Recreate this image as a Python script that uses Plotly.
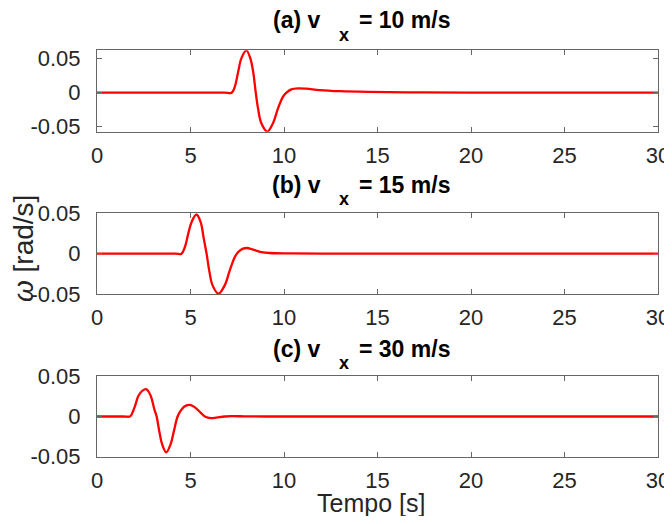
import plotly.graph_objects as go

# ---------------- data ----------------
t_a = [0, 5, 6.8, 7.2, 7.37, 7.55, 7.72, 7.99, 8.2, 8.35, 8.49, 8.61, 8.79, 9.11,
       9.41, 9.68, 9.95, 10.13, 10.39, 10.75, 11.2, 11.9, 13.0, 14.5, 17, 20, 25, 30]
w_a = [0, 0, 0, 0, 0.0088, 0.031, 0.0505, 0.0622, 0.0505, 0.031, 0, -0.023, -0.045, -0.0572,
       -0.045, -0.023, -0.0059, 0, 0.0049, 0.0064, 0.0059, 0.0039, 0.0022, 0.0012, 0.0005, 0.0002, 0, 0]

t_b = [0, 3, 4.2, 4.52, 4.7, 4.88, 5.06, 5.32, 5.54, 5.71, 5.86, 6.0, 6.18, 6.5, 6.83,
       7.1, 7.37, 7.55, 7.81, 8.02, 8.35, 8.79, 9.24, 10.3, 12, 15, 20, 30]
w_b = [0, 0, 0, 0, 0.0083, 0.0248, 0.0393, 0.0485, 0.0393, 0.0186, 0, -0.0207, -0.0393, -0.0495, -0.0393,
       -0.0207, -0.0041, 0.002, 0.0062, 0.007, 0.005, 0.002, 0.0008, 0.0003, 0.0001, 0, 0, 0]

t_c = [0, 1.4, 1.76, 1.85, 2.03, 2.21, 2.42, 2.65, 2.87, 3.06, 3.19, 3.33, 3.49, 3.7, 3.93,
       4.13, 4.31, 4.52, 4.79, 5.02, 5.27, 5.55, 5.77, 6.09, 6.39, 6.83, 7.19, 7.9, 9, 12, 20, 30]
w_c = [0, 0, 0, 0.0025, 0.0129, 0.0254, 0.0318, 0.0338, 0.0258, 0.0095, 0, -0.0183, -0.035, -0.0446, -0.035,
       -0.0163, 0, 0.0088, 0.0138, 0.0142, 0.0108, 0.0046, 0, -0.0021, -0.0013, 0, 0.0004, 0.0002, 0, 0, 0, 0]

panel_labels = ["(a) v", "(b) v", "(c) v"]
panel_speeds = ["= 10 m/s", "= 15 m/s", "= 30 m/s"]
y_ranges = [[-0.0574, 0.0624], [-0.05, 0.05], [-0.05, 0.05]]
x_ticks = [0, 5, 10, 15, 20, 25, 30]
y_ticks = [-0.05, 0, 0.05]
y_ticktext = ["-0.05", "0", "0.05"]
x_title = "Tempo [s]"
y_title = "<i>ω</i> [rad/s]"

# ---------------- layout geometry ----------------
OFF = 8                              # page body margin
W, H = 672 - 2 * OFF, 524 - 2 * OFF  # figure fits inside the page without overflow
FONT = "Liberation Sans, Arial, sans-serif"
AX = "#666666"
TXT = "#262626"


def px(x):
    return (x - OFF) / W


def py(y):
    return 1 - (y - OFF) / H


x_dom = [px(97), px(658)]
boxes = [(50.3, 131.7), (213.3, 294.0), (376.3, 456.7)]
title_y = [20.5, 184.5, 348.5]

fig = go.Figure()
series = [(t_a, w_a), (t_b, w_b), (t_c, w_c)]
for i, (t, w) in enumerate(series):
    n = "" if i == 0 else str(i + 1)
    fig.add_trace(go.Scatter(x=t, y=w, mode="lines",
                             line=dict(color="#ff0000", width=2.3, shape="spline", smoothing=1.0),
                             xaxis="x" + n, yaxis="y" + n, showlegend=False, hoverinfo="skip"))
    top, bot = boxes[i]
    common = dict(showline=True, linecolor=AX, linewidth=1, mirror="ticks",
                  ticks="inside", ticklen=5, tickcolor=AX, tickwidth=1,
                  showgrid=False, zeroline=False, automargin=False,
                  tickfont=dict(family=FONT, size=22, color=TXT))
    fig.update_layout(**{
        "xaxis" + n: dict(domain=x_dom, range=[0, 30], tickvals=x_ticks,
                          anchor="y" + n, ticklabelstandoff=4, ticklabeloverflow="allow", **common),
        "yaxis" + n: dict(domain=[py(bot), py(top)], range=y_ranges[i],
                          tickvals=y_ticks, ticktext=y_ticktext,
                          anchor="x" + n, ticklabelstandoff=11, **common),
    })
    # title pieces
    fig.add_annotation(text="<b>" + panel_labels[i] + "</b>", x=px(321.7), y=py(title_y[i]),
                       xref="paper", yref="paper", xanchor="right", yanchor="middle",
                       showarrow=False, borderpad=0,
                       font=dict(family=FONT, size=23, color="#000000"))
    fig.add_annotation(text="<b>x</b>", x=px(343.5), y=py(title_y[i] + 14.5),
                       xref="paper", yref="paper", xanchor="center", yanchor="middle",
                       showarrow=False, borderpad=0,
                       font=dict(family=FONT, size=18, color="#000000"))
    fig.add_annotation(text="<b>" + panel_speeds[i] + "</b>", x=px(358), y=py(title_y[i]),
                       xref="paper", yref="paper", xanchor="left", yanchor="middle",
                       showarrow=False, borderpad=0,
                       font=dict(family=FONT, size=23, color="#000000"))

fig.add_annotation(text=x_title, x=px(370.5), y=py(503), xref="paper", yref="paper",
                   xanchor="center", yanchor="middle", showarrow=False, borderpad=0,
                   font=dict(family=FONT, size=25, color=TXT))
fig.add_annotation(text=y_title, x=px(23), y=py(249), xref="paper", yref="paper",
                   xanchor="center", yanchor="middle", textangle=-90, showarrow=False, borderpad=0,
                   font=dict(family=FONT, size=28, color=TXT))

fig.update_layout(width=W, height=H, margin=dict(l=0, r=0, t=0, b=0, autoexpand=False),
                  paper_bgcolor="white", plot_bgcolor="white", showlegend=False)

fig.write_html("out.html")
